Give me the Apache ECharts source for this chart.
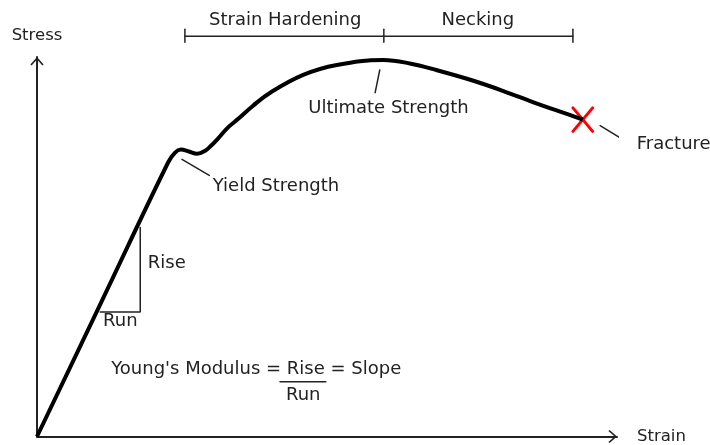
<!DOCTYPE html>
<html>
<head>
<meta charset="utf-8">
<script src="https://cdn.jsdelivr.net/npm/echarts@6/dist/echarts.min.js"></script>
<style>
  html, body { margin: 0; padding: 0; background: #fff; }
  #chart { width: 710px; height: 445px; }
</style>
</head>
<body>
<div id="chart"></div>
<script>
// stress-strain curve, both axes in % of the drawn axis length
const strain = [0, 10.84, 22.6, 23.8, 24.8, 26.2, 27.6, 29.0, 30.0, 31.2, 32.9, 34.7, 37.2, 40.2, 45.9, 51.7, 59.7, 64.3, 69.0, 74.7, 80.3, 86.2, 90.2, 94.1]
const stress = [0, 34.6, 72.2, 74.8, 75.6, 75.1, 74.5, 75.3, 76.6, 78.5, 81.4, 83.7, 87.1, 90.6, 95.3, 97.9, 99.2, 98.3, 96.5, 94.0, 91.1, 87.7, 85.6, 83.5]

// bracket over the top: strain hardening | necking
const phaseEdges = [25.5, 59.8, 92.4]

// rise / run triangle on the elastic part
const runX = [10.9, 17.8]
const riseY = [32.8, 55.1]

// fracture point
const fracture = [94.1, 83.5]

// leader lines [x1, y1, x2, y2]
const leaders = [
  [25.0, 73.0, 29.7, 68.8],   // yield
  [59.1, 96.6, 58.3, 90.6],   // ultimate
  [97.1, 81.9, 101.6, 77.7]   // fracture
]

// text labels: text, x, y, anchor
const labelText = ['Strain Hardening', 'Necking', 'Ultimate Strength', 'Yield Strength', 'Rise', 'Run', 'Fracture', "Young's Modulus = Rise = Slope", 'Run']
const labelX = [42.8, 76.0, 60.6, 30.3, 19.1, 11.4, 103.4, 12.8, 45.9]
const labelY = [109.7, 109.7, 86.6, 65.9, 45.7, 30.3, 76.9, 17.8, 10.8]
const labelAnchor = ['center', 'center', 'center', 'left', 'left', 'left', 'left', 'left', 'center']

const ink = '#222'
const font = 'DejaVu Sans'
// open chevron arrowhead (filled V shape), tip at the top
const chevron = 'path://M0,0 L6.6,7.4 L5.4,8.6 L0,2.4 L-5.4,8.6 L-6.6,7.4 Z'

const chart = echarts.init(document.getElementById('chart'))

function seg (points, color, width) {
  return {
    type: 'line',
    data: points,
    symbol: 'none',
    clip: false,
    silent: true,
    lineStyle: { color: color, width: width, cap: 'round' },
    z: 3
  }
}

const series = []

// main curve
series.push({
  type: 'line',
  data: strain.map((x, i) => [x, stress[i]]),
  symbol: 'none',
  smooth: 0.4,
  clip: false,
  lineStyle: { color: '#000', width: 4, join: 'round' },
  z: 5
})

// bracket
series.push(seg([[phaseEdges[0], 105.5], [phaseEdges[2], 105.5]], ink, 1.5))
phaseEdges.forEach(x => {
  series.push(seg([[x, 103.9], [x, 107.3]], ink, 1.5))
})

// rise/run triangle
series.push(seg([[runX[1], riseY[1]], [runX[1], riseY[0]], [runX[0], riseY[0]]], ink, 1.5))

// fraction bar under Rise
series.push(seg([[41.9, 14.4], [49.8, 14.4]], ink, 1.5))

// leaders
leaders.forEach(l => {
  series.push(seg([[l[0], l[1]], [l[2], l[3]]], ink, 1.5))
})

// red X at fracture
series.push(seg([[fracture[0] - 1.7, fracture[1] + 3.1], [fracture[0] + 1.7, fracture[1] - 3.1]], '#ff0000', 3))
series.push(seg([[fracture[0] + 1.7, fracture[1] + 3.1], [fracture[0] - 1.7, fracture[1] - 3.1]], '#ff0000', 3))

// text
series.push({
  type: 'scatter',
  symbolSize: 0,
  silent: true,
  clip: false,
  itemStyle: { opacity: 1 },
  data: labelText.map((t, i) => ({
    value: [labelX[i], labelY[i]],
    label: {
      show: true,
      formatter: t,
      position: labelAnchor[i] === 'left' ? 'right' : 'inside',
      distance: 0,
      color: ink,
      fontFamily: font,
      fontSize: 18
    }
  })),
  z: 6
})

const axisLine = {
  show: true,
  symbol: ['none', chevron],
  symbolSize: [13.2, 8.6],
  symbolOffset: [0, -4.3],
  lineStyle: { color: ink, width: 2 }
}

const option = {
  animation: false,
  backgroundColor: '#fff',
  grid: { left: 37, right: 93, top: 57, bottom: 7 },
  xAxis: {
    type: 'value',
    min: 0,
    max: 100,
    name: 'Strain',
    nameLocation: 'end',
    nameGap: 20,
    nameTextStyle: { color: ink, fontFamily: font, fontSize: 16.5 },
    axisLine: axisLine,
    axisTick: { show: false },
    axisLabel: { show: false },
    splitLine: { show: false }
  },
  yAxis: {
    type: 'value',
    min: 0,
    max: 100,
    name: 'Stress',
    nameLocation: 'end',
    nameGap: 13,
    nameTextStyle: { color: ink, fontFamily: font, fontSize: 16.5 },
    axisLine: axisLine,
    axisTick: { show: false },
    axisLabel: { show: false },
    splitLine: { show: false }
  },
  series: series
}

chart.setOption(option)
</script>
</body>
</html>
